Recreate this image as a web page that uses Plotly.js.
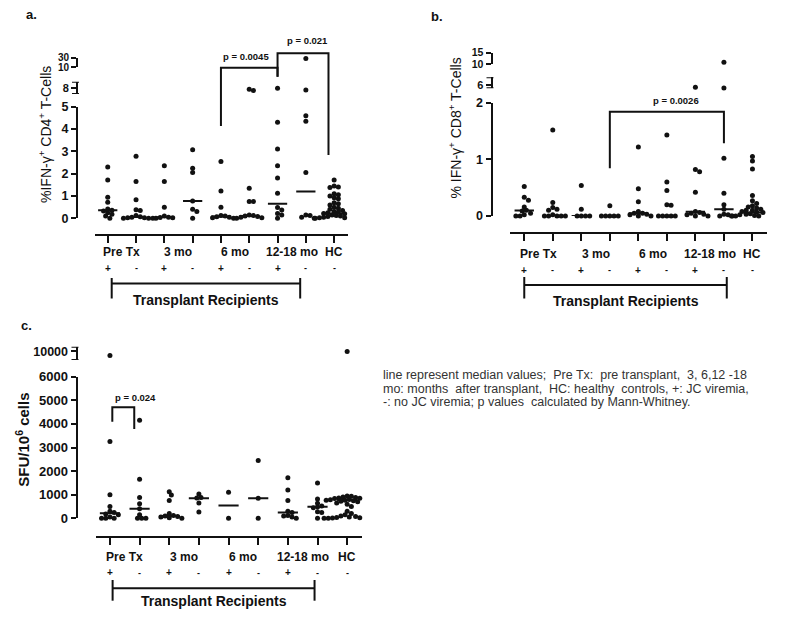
<!DOCTYPE html>
<html><head><meta charset="utf-8">
<script src="https://cdn.plot.ly/plotly-3.0.1.min.js"></script>
<style>html,body{margin:0;padding:0;background:#fff;} #chart{width:800px;height:617px;}</style>
</head><body><div id="chart"></div>
<script>
// ---------------- data ----------------
const groupLabels = ["Pre Tx", "3 mo", "6 mo", "12-18 mo", "HC"];
const groupLabelPos = [0.5, 2.5, 4.5, 6.5, 8];
const viremiaSigns = ["+", "-", "+", "-", "+", "-", "+", "-", "-"];

// panel a: % IFN-γ+ CD4+ T-cells
const cd4Values = [
  [2.3, 1.72, 0.94, 0.72, 0.42, 0.36, 0.33, 0.25, 0.18, 0.1, 0.0],
  [2.78, 1.65, 0.83, 0.38, 0.35, 0.12, 0.07, 0.05, 0.03, 0.02, 0, 0, 0],
  [2.35, 1.65, 0.5, 0.1, 0.05, 0.04, 0.02, 0],
  [3.07, 2.24, 2.05, 0.78, 0.4, 0.3, 0.0],
  [2.55, 1.22, 0.5, 0.12, 0.1, 0.07, 0.05, 0.03, 0.0],
  [7.88, 7.78, 1.35, 0.75, 0.75, 0.15, 0.12, 0.1, 0.08, 0.05, 0.02, 0],
  [7.96, 4.3, 3.1, 2.35, 1.8, 1.12, 0.48, 0.37, 0.22, 0.15, 0.0],
  [28, 7.83, 4.6, 4.35, 2.05, 0.15, 0.12, 0.05, 0.0],
  [1.72, 1.45, 1.4, 1.38, 1.1, 1.05, 1.0, 0.92, 0.88, 0.7, 0.65, 0.6, 0.5, 0.45, 0.4, 0.35,
   0.3, 0.28, 0.25, 0.22, 0.2, 0.18, 0.15, 0.12, 0.1, 0.08, 0.05, 0.03, 0.02, 0, 0, 0]
];
const cd4Medians = [0.36, 0.06, 0.05, 0.78, 0.08, 0.1, 0.65, 1.2, 0.22];

// panel b: % IFN-γ+ CD8+ T-cells
const cd8Values = [
  [0.52, 0.33, 0.28, 0.16, 0.1, 0.09, 0.05, 0.02, 0, 0],
  [1.52, 0.24, 0.15, 0.12, 0.1, 0.02, 0, 0, 0, 0, 0],
  [0.54, 0.12, 0, 0, 0, 0],
  [0.18, 0, 0, 0, 0, 0],
  [1.22, 0.48, 0.25, 0.08, 0.05, 0.05, 0.03, 0.02, 0, 0],
  [1.43, 0.6, 0.45, 0.2, 0.19, 0, 0, 0, 0, 0],
  [5.6, 0.82, 0.78, 0.42, 0.08, 0.06, 0.05, 0.03, 0.02, 0, 0],
  [10.75, 5.45, 1.02, 0.4, 0.2, 0.12, 0.03, 0.02, 0, 0],
  [1.05, 0.97, 0.83, 0.36, 0.27, 0.22, 0.18, 0.16, 0.14, 0.12, 0.1, 0.1, 0.08, 0.07, 0.06,
   0.05, 0.04, 0.03, 0.02, 0.01, 0, 0, 0, 0]
];
const cd8Medians = [0.095, 0, 0, 0, 0.047, 0, 0.075, 0.12, 0.06];

// panel c: SFU / 10^6 cells
const sfuValues = [
  [9500, 3250, 1000, 500, 300, 250, 180, 150, 60, 0, 0, 0],
  [4150, 1650, 880, 620, 400, 150, 0, 0, 0],
  [1130, 990, 750, 200, 120, 100, 80, 50, 20, 0],
  [1030, 880, 860, 650, 270],
  [1100, 0],
  [2450, 850, 0],
  [1720, 1200, 750, 300, 250, 120, 100, 50, 0],
  [1500, 820, 640, 520, 480, 450, 280, 250, 0],
  [9950, 950, 930, 900, 880, 860, 850, 840, 820, 800, 790, 780, 770, 760, 740, 720, 700,
   650, 600, 500, 300, 200, 150, 100, 80, 50, 30, 20, 10, 0, 0, 0, 0]
];
const sfuMedians = [210, 400, 100, 850, 540, 850, 250, 490, 780];

const noteLines = [
  "line represent median values;  Pre Tx:  pre transplant,  3, 6,12 -18",
  "mo: months  after transplant,  HC: healthy  controls, +: JC viremia,",
  "-: no JC viremia; p values  calculated by Mann-Whitney."
];

// ---------------- layout helpers ----------------
const W = 800, H = 617;
const fx = p => p / W, fy = p => 1 - p / H;
const FONT = "Liberation Sans, Arial, Helvetica, sans-serif";
const INK = "#111";

const panels = [
  { label: "a.", labelPos: [31, 14], values: cd4Values, medians: cd4Medians,
    xDom: [95, 348.3], xRange: [-0.45, 8.5], xAxisY: 235, yAxisX: 77,
    segs: [
      { dom: [106.7, 218.3], range: [0, 5], tickvals: [0, 1, 2, 3, 4, 5], size: 12.5 },
      { dom: [81.7, 94], range: [7.5, 8.5], tickvals: [8], caps: true, size: 11 },
      { dom: [57.5, 67], range: [10, 30], tickvals: [10, 30], size: 10 }
    ],
    ytitle: { text: "%IFN-γ<sup>+</sup> CD4<sup>+</sup> T-Cells", x: 45, y: 135, size: 14, bold: false },
    labelRowY: 252, signRowY: 268,
    bracket: { x0: 0.14, x1: 6.8, y: 283.5, yTop: 278, yBot: 298.5, textY: 300 },
    pvals: [
      { x0: 4, x1: 6, top: 67.7, b0: 126, b1: 76.7, text: "p = 0.0045", tx: 245.7, ty: 56.7 },
      { x0: 6, x1: 7.8, top: 53.3, b0: 76.7, b1: 155, text: "p = 0.021", tx: 307, ty: 40.7 }
    ]
  },
  { label: "b.", labelPos: [437, 17], values: cd8Values, medians: cd8Medians,
    xDom: [510, 766.7], xRange: [-0.5, 8.5], xAxisY: 232.5, yAxisX: 491.5,
    segs: [
      { dom: [102.7, 216], range: [0, 2], tickvals: [0, 1, 2], size: 12.5 },
      { dom: [77.3, 88.3], range: [5.4, 7.6], tickvals: [6], caps: true, size: 11 },
      { dom: [52.7, 64], range: [10, 15], tickvals: [10, 15], size: 10.5 }
    ],
    ytitle: { text: "% IFN-γ<sup>+</sup> CD8<sup>+</sup> T-Cells", x: 455, y: 128.5, size: 14, bold: false },
    labelRowY: 254, signRowY: 270,
    bracket: { x0: 0, x1: 7.1, y: 285, yTop: 277, yBot: 298.5, textY: 301 },
    pvals: [
      { x0: 3, x1: 7, top: 111.7, b0: 168.3, b1: 143.3, text: "p = 0.0026", tx: 676, ty: 100 }
    ]
  },
  { label: "c.", labelPos: [26, 325], values: sfuValues, medians: sfuMedians,
    xDom: [96, 362], xRange: [-0.47, 8.5], xAxisY: 537.3, yAxisX: 76.5,
    segs: [
      { dom: [376.7, 518.3], range: [0, 6000], tickvals: [0, 1000, 2000, 3000, 4000, 5000, 6000], size: 13 },
      { dom: [346.7, 360], range: [9000, 10500], tickvals: [10000], caps: true, size: 12.5 }
    ],
    ytitle: { text: "SFU/10<sup>6</sup> cells", x: 21.7, y: 440, size: 15, bold: true },
    labelRowY: 556.7, signRowY: 572.7,
    bracket: { x0: 0.09, x1: 6.9, y: 588.3, yTop: 580, yBot: 600.7, textY: 601 },
    pvals: [
      { x0: 0.08, x1: 0.82, top: 407.3, b0: 421.7, b1: 429, text: "p = 0.024", tx: 135, ty: 397.3 }
    ]
  }
];

// ---------------- build ----------------
const layout = {
  width: W, height: H, margin: { l: 0, r: 0, t: 0, b: 0 },
  paper_bgcolor: "#fff", plot_bgcolor: "rgba(0,0,0,0)",
  showlegend: false, font: { family: FONT, color: INK },
  shapes: [], annotations: []
};
const traces = [];
let yCount = 0;

function segIndex(p, v) {
  for (let s = 0; s < p.segs.length; s++) {
    if (v <= p.segs[s].range[1] + 1e-9) return s;
  }
  return p.segs.length - 1;
}
function valToPx(seg, v) {
  const [lo, hi] = seg.range;
  return seg.dom[1] - (v - lo) / (hi - lo) * (seg.dom[1] - seg.dom[0]);
}

panels.forEach((p, pi) => {
  const xName = pi === 0 ? "x" : "x" + (pi + 1);
  const xKey = pi === 0 ? "xaxis" : "xaxis" + (pi + 1);
  layout[xKey] = {
    domain: [fx(p.xDom[0]), fx(p.xDom[1])], range: p.xRange,
    anchor: "free", position: fy(p.xAxisY),
    showline: true, linecolor: INK, linewidth: 2,
    ticks: "outside", ticklen: 7, tickwidth: 2, tickcolor: INK,
    tickmode: "array", tickvals: [0, 1, 2, 3, 4, 5, 6, 7, 8], showticklabels: false,
    showgrid: false, zeroline: false, fixedrange: true
  };
  const pxPerCat = (p.xDom[1] - p.xDom[0]) / (p.xRange[1] - p.xRange[0]);

  const yNames = p.segs.map((seg) => {
    yCount++;
    const yName = yCount === 1 ? "y" : "y" + yCount;
    const yKey = yCount === 1 ? "yaxis" : "yaxis" + yCount;
    layout[yKey] = {
      domain: [fy(seg.dom[1]), fy(seg.dom[0])], range: seg.range,
      anchor: "free", position: fx(p.yAxisX),
      showline: true, linecolor: INK, linewidth: 2,
      ticks: "outside", ticklen: 5, tickwidth: 2, tickcolor: INK,
      tickmode: "array", tickvals: seg.tickvals, ticktext: seg.tickvals.map(String),
      tickfont: { family: FONT, size: seg.size, color: INK, weight: "bold" },
      showgrid: false, zeroline: false, fixedrange: true
    };
    // end caps of a broken-axis segment
    if (seg.caps) {
      seg.range.forEach(r => layout.shapes.push({ type: "line", xref: "paper", yref: yName,
        x0: fx(p.yAxisX - 5), x1: fx(p.yAxisX + 2), y0: r, y1: r, line: { color: INK, width: 2 } }));
    }
    return yName;
  });

  // markers, spread horizontally (beeswarm) so they don't overlap too much
  const segPts = p.segs.map(() => ({ x: [], y: [] }));
  const d = 4.2;
  p.values.forEach((vals, gi) => {
    const pts = vals.map(v => {
      const s = segIndex(p, v);
      return { v, s, py: valToPx(p.segs[s], v) };
    }).sort((a, b) => a.py - b.py);
    const placed = [];
    pts.forEach(pt => {
      for (let j = 0; j < 80; j++) {
        const off = (j === 0 ? 0 : (j % 2 ? 1 : -1) * Math.ceil(j / 2)) * d / 2;
        const ok = placed.every(q => (q.ox - off) ** 2 + (q.py - pt.py) ** 2 >= d * d * 0.75);
        if (ok) { pt.ox = off; placed.push(pt); break; }
      }
      segPts[pt.s].x.push(gi + pt.ox / pxPerCat);
      segPts[pt.s].y.push(pt.v);
    });
  });
  segPts.forEach((sp, s) => {
    traces.push({
      type: "scatter", mode: "markers", x: sp.x, y: sp.y,
      xaxis: xName, yaxis: yNames[s], cliponaxis: false, hoverinfo: "skip",
      marker: { size: 5, color: INK, line: { width: 0 } }
    });
  });

  // median lines
  p.medians.forEach((m, gi) => {
    layout.shapes.push({ type: "line", xref: xName, yref: yNames[0],
      x0: gi - 0.34, x1: gi + 0.34, y0: m, y1: m, line: { color: INK, width: 2 } });
  });

  // category labels and +/- signs
  groupLabels.forEach((t, k) => {
    layout.annotations.push({ text: t, xref: xName, yref: "paper", x: groupLabelPos[k], y: fy(p.labelRowY),
      xanchor: "center", yanchor: "middle", showarrow: false,
      font: { family: FONT, size: 12, color: INK, weight: "bold" } });
  });
  viremiaSigns.forEach((t, k) => {
    layout.annotations.push({ text: t, xref: xName, yref: "paper", x: k, y: fy(p.signRowY),
      xanchor: "center", yanchor: "middle", showarrow: false,
      font: { family: FONT, size: t === "+" ? 10 : 9, color: INK, weight: "bold" } });
  });

  // transplant recipients bracket
  const b = p.bracket;
  layout.shapes.push({ type: "line", xref: xName, yref: "paper", x0: b.x0, x1: b.x1, y0: fy(b.y), y1: fy(b.y), line: { color: INK, width: 2 } });
  [b.x0, b.x1].forEach(xx => layout.shapes.push({ type: "line", xref: xName, yref: "paper",
    x0: xx, x1: xx, y0: fy(b.yTop), y1: fy(b.yBot), line: { color: INK, width: 2 } }));
  layout.annotations.push({ text: "Transplant Recipients", xref: xName, yref: "paper",
    x: (b.x0 + b.x1) / 2, y: fy(b.textY), xanchor: "center", yanchor: "middle", showarrow: false,
    font: { family: FONT, size: 14, color: INK, weight: "bold" } });

  // p-value brackets
  p.pvals.forEach(pv => {
    layout.shapes.push({ type: "path", xref: xName, yref: "paper",
      path: `M ${pv.x0},${fy(pv.b0)} L ${pv.x0},${fy(pv.top)} L ${pv.x1},${fy(pv.top)} L ${pv.x1},${fy(pv.b1)}`,
      line: { color: INK, width: 2 } });
    layout.annotations.push({ text: pv.text, xref: "paper", yref: "paper", x: fx(pv.tx), y: fy(pv.ty),
      xanchor: "center", yanchor: "middle", showarrow: false,
      font: { family: FONT, size: 9.5, color: INK, weight: "bold" } });
  });

  // y title
  const yt = p.ytitle;
  layout.annotations.push({ text: yt.text, xref: "paper", yref: "paper", x: fx(yt.x), y: fy(yt.y),
    xanchor: "center", yanchor: "middle", textangle: -90, showarrow: false,
    font: { family: FONT, size: yt.size, color: INK, weight: yt.bold ? "bold" : "normal" } });

  // panel label
  layout.annotations.push({ text: p.label, xref: "paper", yref: "paper", x: fx(p.labelPos[0]), y: fy(p.labelPos[1]),
    xanchor: "center", yanchor: "middle", showarrow: false,
    font: { family: FONT, size: 13, color: INK, weight: "bold" } });
});

// footnote
const noteY = [375, 388.5, 402.5];
noteLines.forEach((t, k) => {
  layout.annotations.push({ text: t, xref: "paper", yref: "paper", x: fx(381), y: fy(noteY[k]),
    xanchor: "left", yanchor: "middle", showarrow: false,
    font: { family: FONT, size: 12.5, color: "#333" } });
});

Plotly.newPlot("chart", traces, layout, { staticPlot: true, displayModeBar: false });
</script>
</body></html>
